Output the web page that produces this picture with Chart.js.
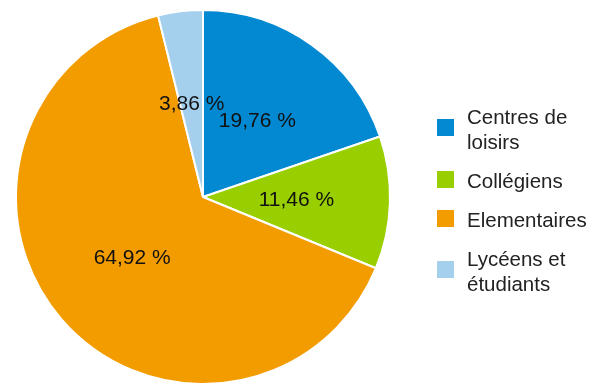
<!DOCTYPE html>
<html lang="fr">
<head>
    <meta charset="utf-8">
    <title>Répartition</title>
    <script src="https://cdn.jsdelivr.net/npm/chart.js"></script>
    <style>
        html, body { margin: 0; padding: 0; background: #fff; }
        #wrap { position: relative; width: 600px; height: 386px; }
        #legend {
            position: absolute; left: 437px; top: 104px;
            font-family: "Liberation Sans", Arial, sans-serif;
            font-size: 20.5px; line-height: 25px; color: #222;
        }
        .item { display: flex; align-items: center; margin-bottom: 14px; }
        .box { width: 17px; height: 17px; flex: none; margin-right: 13px; margin-top: -3px; }
        .txt { max-width: 133px; }
    </style>
</head>
<body>
    <div id="wrap">
        <canvas id="pieChart" width="600" height="386"></canvas>
        <div id="legend"></div>
    </div>

    <script>
        const categories = ['Centres de loisirs', 'Collégiens', 'Elementaires', 'Lycéens et étudiants'];
        const shares = [19.76, 11.46, 64.92, 3.86];
        const colors = ['#0289d2', '#99cf00', '#f39c00', '#a4d0ee'];

        // percent labels drawn inside each slice
        const sliceLabels = {
            id: 'sliceLabels',
            afterDatasetsDraw(chart) {
                const ctx = chart.ctx;
                const meta = chart.getDatasetMeta(0);
                ctx.save();
                ctx.font = '21px "Liberation Sans", Arial, sans-serif';
                ctx.fillStyle = '#111';
                ctx.textAlign = 'center';
                ctx.textBaseline = 'middle';
                meta.data.forEach((arc, i) => {
                    const p = arc.getProps(['x', 'y', 'startAngle', 'endAngle', 'outerRadius'], true);
                    const mid = (p.startAngle + p.endAngle) / 2;
                    const r = p.outerRadius * 0.5;
                    const label = shares[i].toFixed(2).replace('.', ',') + ' %';
                    ctx.fillText(label, p.x + Math.cos(mid) * r, p.y + Math.sin(mid) * r);
                });
                ctx.restore();
            }
        };

        new Chart(document.getElementById('pieChart'), {
            type: 'pie',
            data: {
                labels: categories,
                datasets: [{
                    data: shares,
                    backgroundColor: colors,
                    borderColor: '#ffffff',
                    borderWidth: 2
                }]
            },
            options: {
                responsive: false,
                animation: false,
                layout: { padding: { left: 15, top: 9, right: 209, bottom: 1 } },
                plugins: {
                    legend: { display: false },
                    tooltip: { enabled: false }
                }
            },
            plugins: [sliceLabels]
        });

        const legend = document.getElementById('legend');
        categories.forEach((name, i) => {
            const item = document.createElement('div');
            item.className = 'item';
            const box = document.createElement('span');
            box.className = 'box';
            box.style.background = colors[i];
            const txt = document.createElement('span');
            txt.className = 'txt';
            txt.textContent = name;
            item.appendChild(box);
            item.appendChild(txt);
            legend.appendChild(item);
        });
    </script>
</body>
</html>
